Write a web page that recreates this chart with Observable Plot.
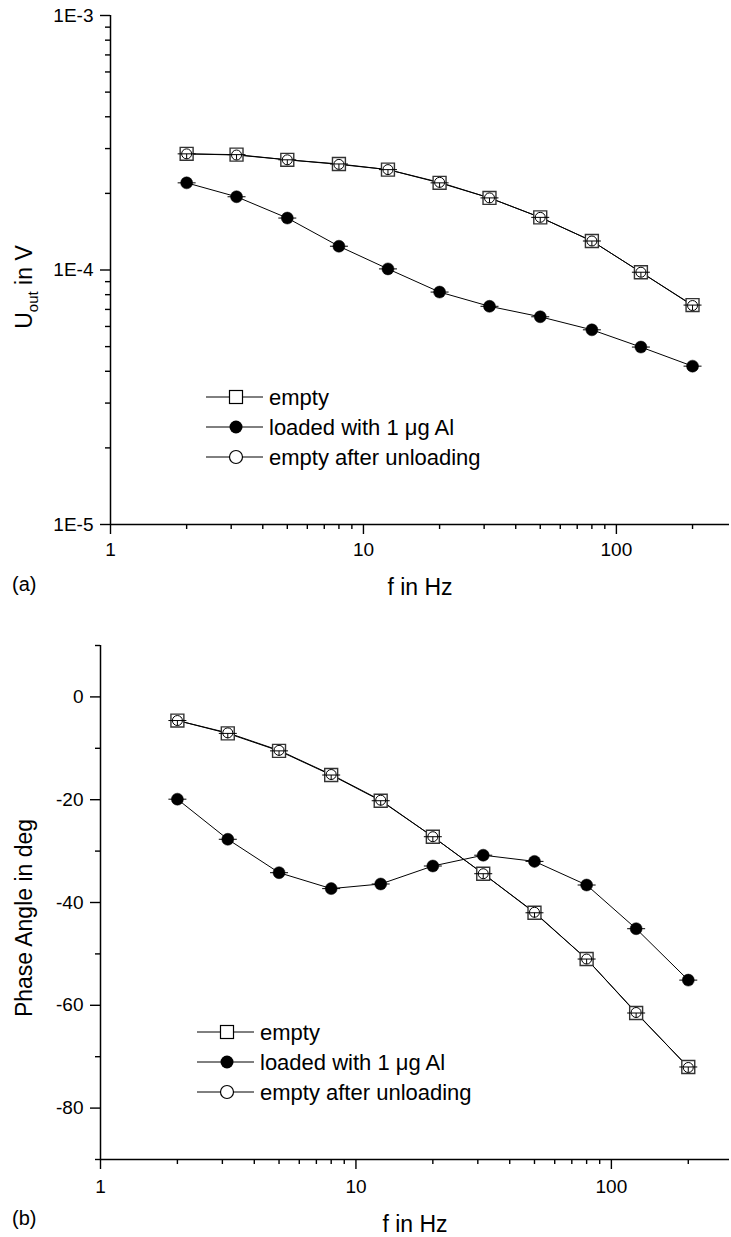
<!DOCTYPE html>
<html>
<head>
<meta charset="utf-8">
<script src="https://cdn.jsdelivr.net/npm/d3@7"></script>
<script src="https://cdn.jsdelivr.net/npm/@observablehq/plot@0.6"></script>
<style>
  html, body { margin: 0; padding: 0; background: #fff; }
  #chart svg { display: block; }
</style>
</head>
<body>
<div id="chart"></div>
<script>
// ---------- data ----------
const freq = [2, 3.15, 5, 8, 12.5, 20, 31.5, 50, 80, 125, 200];
const seriesNames = ["empty", "loaded with 1 \u03BCg Al", "empty after unloading"];

// (a) output voltage U_out in V
const uEmpty    = [2.86e-4, 2.84e-4, 2.71e-4, 2.61e-4, 2.48e-4, 2.20e-4, 1.92e-4, 1.61e-4, 1.30e-4, 9.8e-5, 7.28e-5];
const uLoaded   = [2.20e-4, 1.94e-4, 1.60e-4, 1.24e-4, 1.01e-4, 8.19e-5, 7.20e-5, 6.55e-5, 5.82e-5, 4.98e-5, 4.19e-5];
const uUnloaded = [2.86e-4, 2.83e-4, 2.71e-4, 2.60e-4, 2.48e-4, 2.21e-4, 1.92e-4, 1.61e-4, 1.30e-4, 9.8e-5, 7.25e-5];

// (b) phase angle in deg
const phEmpty    = [-4.6, -7.1, -10.5, -15.2, -20.2, -27.2, -34.4, -42.0, -51.0, -61.5, -72.0];
const phLoaded   = [-19.9, -27.7, -34.2, -37.3, -36.4, -32.9, -30.8, -32.0, -36.6, -45.1, -55.1];
const phUnloaded = [-4.6, -7.0, -10.4, -15.1, -20.1, -27.2, -34.4, -41.9, -51.0, -61.4, -72.1];

// axes / ticks
const freqMajor = [1, 10, 100];
const freqMinor = [2, 3, 4, 5, 6, 7, 8, 9, 20, 30, 40, 50, 60, 70, 80, 90, 200];
const ampMajor = [1e-5, 1e-4, 1e-3];
const ampMajorLabels = ["1E-5", "1E-4", "1E-3"];
const ampMinor = [2e-5, 3e-5, 4e-5, 5e-5, 6e-5, 7e-5, 8e-5, 9e-5, 2e-4, 3e-4, 4e-4, 5e-4, 6e-4, 7e-4, 8e-4, 9e-4];
const phMajor = [-80, -60, -40, -20, 0];
const phMinor = [-90, -70, -50, -30, -10, 10];

const FONT = "'Liberation Sans', Arial, Helvetica, sans-serif";

// custom symbol: horizontal error bar + short vertical stem
const barSymbol = {
  draw(ctx, size) {
    const r = Math.sqrt(size / Math.PI);
    ctx.moveTo(-r, 0); ctx.lineTo(r, 0);
    ctx.moveTo(0, 0); ctx.lineTo(0, r * 0.55);
  }
};

function rows(ys) { return freq.map((f, i) => ({f, v: ys[i]})); }

function makePanel(opt) {
  const {ys, yScale, xDomain, yMajor, yMajorLabel, yMinor, marginLeft, marginTop, marginBottom, height, xPad} = opt;
  const [e, l, u] = ys.map(rows);
  return Plot.plot({
    width: 731,
    height,
    marginLeft,
    marginRight: 2,
    marginTop,
    marginBottom,
    style: {fontFamily: FONT, fontSize: "19px", color: "black", background: "white"},
    x: {type: "log", domain: xDomain, axis: null},
    y: {...yScale, axis: null},
    marks: [
      Plot.ruleX([xDomain[0]], {stroke: "black", strokeWidth: 1.5}),
      Plot.ruleY([yScale.domain[0]], {stroke: "black", strokeWidth: 1.5}),
      Plot.axisX({ticks: freqMajor, tickSize: 10, tickPadding: xPad, strokeWidth: 1.4,
                  tickFormat: d => String(d), fontSize: 19, label: null}),
      Plot.axisX({ticks: freqMinor, tickSize: 5, strokeWidth: 1.4, tickFormat: () => "", label: null}),
      Plot.axisY({ticks: yMajor, tickSize: 10, tickPadding: 7, strokeWidth: 1.4,
                  tickFormat: yMajorLabel, fontSize: 19, label: null}),
      Plot.axisY({ticks: yMinor, tickSize: 5, strokeWidth: 1.4, tickFormat: () => "", label: null}),
      Plot.line(e, {x: "f", y: "v", stroke: "black", strokeWidth: 1}),
      Plot.line(l, {x: "f", y: "v", stroke: "black", strokeWidth: 1}),
      Plot.line(u, {x: "f", y: "v", stroke: "black", strokeWidth: 1}),
      Plot.dot(e, {x: "f", y: "v", symbol: "square", r: 7.3, fill: "white", stroke: "#333", strokeWidth: 1.4}),
      Plot.dot(l, {x: "f", y: "v", symbol: "circle", r: 6, fill: "black", stroke: "black", strokeWidth: 0.5}),
      Plot.dot(u, {x: "f", y: "v", symbol: "circle", r: 5, fill: "white", stroke: "black", strokeWidth: 1}),
      Plot.dot(e, {x: "f", y: "v", symbol: barSymbol, r: 9, fill: "none", stroke: "black", strokeWidth: 1}),
      Plot.dot(l, {x: "f", y: "v", symbol: barSymbol, r: 9, fill: "none", stroke: "black", strokeWidth: 1})
    ]
  });
}

function addLegend(svg, x0, y0) {
  const g = d3.select(svg).append("g").attr("font-family", FONT).attr("font-size", 22)
    .attr("text-anchor", "start");
  seriesNames.forEach((name, i) => {
    const y = y0 + i * 30;
    const mx = x0 + 30;
    g.append("line").attr("x1", x0).attr("x2", x0 + 57).attr("y1", y).attr("y2", y)
      .attr("stroke", "black").attr("stroke-width", 1);
    if (i === 0) {
      g.append("rect").attr("x", mx - 6.5).attr("y", y - 6.5).attr("width", 13).attr("height", 13)
        .attr("fill", "white").attr("stroke", "black").attr("stroke-width", 1.2);
    } else if (i === 1) {
      g.append("circle").attr("cx", mx).attr("cy", y).attr("r", 6.5).attr("fill", "black");
    } else {
      g.append("circle").attr("cx", mx).attr("cy", y).attr("r", 6.5).attr("fill", "white")
        .attr("stroke", "black").attr("stroke-width", 1.2);
    }
    g.append("text").attr("x", x0 + 63).attr("y", y).attr("dy", "0.36em")
      .attr("text-anchor", "start").attr("fill", "black").text(name);
  });
}

function addText(svg, x, y, txt, size, anchor, rotate) {
  const t = d3.select(svg).append("text")
    .attr("font-family", FONT).attr("font-size", size).attr("fill", "black")
    .attr("text-anchor", anchor)
    .attr("transform", `translate(${x},${y})` + (rotate ? " rotate(-90)" : ""));
  t.text(txt);
  return t;
}

const chart = document.getElementById("chart");

// ---------- panel (a) ----------
const svgA = makePanel({
  ys: [uEmpty, uLoaded, uUnloaded],
  yScale: {type: "log", domain: [1e-5, 1e-3]},
  xDomain: [1, 280],
  yMajor: ampMajor,
  yMajorLabel: d => ampMajorLabels[ampMajor.findIndex(m => Math.abs(m - d) / m < 1e-6)],
  yMinor: ampMinor,
  marginLeft: 110, marginTop: 15, marginBottom: 91, height: 615, xPad: 8
});
chart.appendChild(svgA);
addLegend(svgA, 206, 397);
addText(svgA, 420, 595, "f in Hz", 23, "middle", false);
addText(svgA, 12, 591, "(a)", 20, "start", false);
{
  const t = d3.select(svgA).append("text")
    .attr("font-family", FONT).attr("font-size", 23).attr("fill", "black")
    .attr("text-anchor", "middle")
    .attr("transform", "translate(32,287) rotate(-90)");
  t.append("tspan").text("U");
  t.append("tspan").attr("font-size", 15).attr("dy", 6).text("out");
  t.append("tspan").attr("dy", -6).text(" in V");
}

// ---------- panel (b) ----------
const svgB = makePanel({
  ys: [phEmpty, phLoaded, phUnloaded],
  yScale: {type: "linear", domain: [-90, 10]},
  xDomain: [1, 290],
  yMajor: phMajor,
  yMajorLabel: d => String(d),
  yMinor: phMinor,
  marginLeft: 100, marginTop: 30, marginBottom: 78, height: 622, xPad: 10
});
chart.appendChild(svgB);
addLegend(svgB, 197, 1032 - 615);
addText(svgB, 415, 1232 - 615, "f in Hz", 23, "middle", false);
addText(svgB, 12, 1225 - 615, "(b)", 20, "start", false);
addText(svgB, 32, 918 - 615, "Phase Angle in deg", 23, "middle", true);
</script>
</body>
</html>
